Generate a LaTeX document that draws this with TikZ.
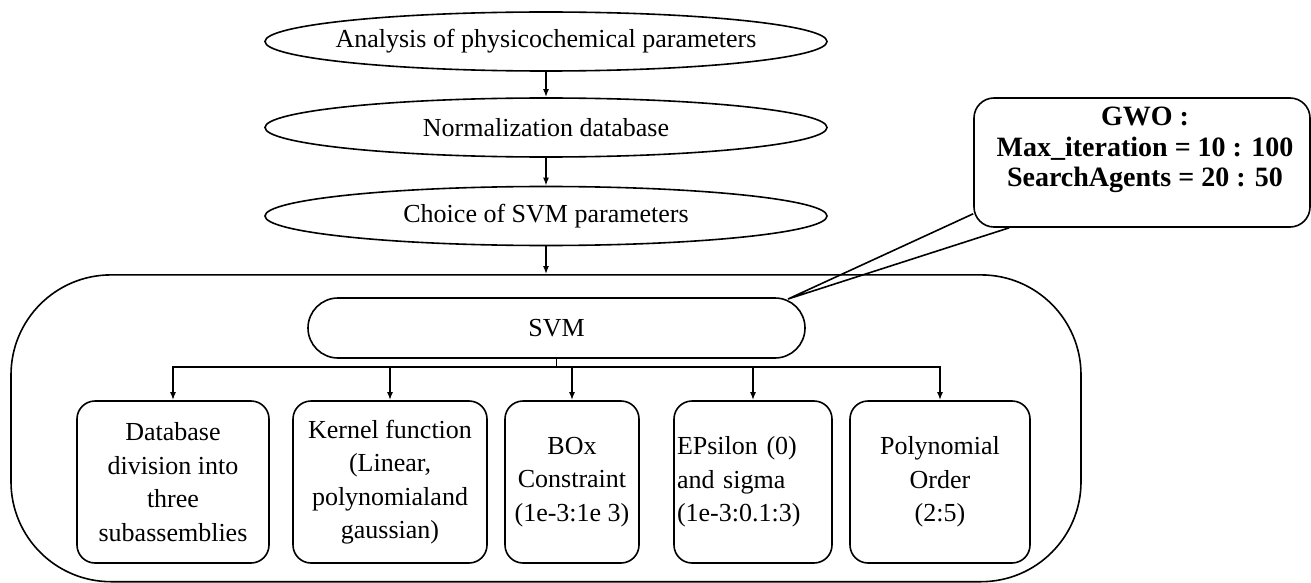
\documentclass[tikz,border=0pt]{standalone}
\usepackage{fontspec}
\setmainfont{Liberation Serif}
\usetikzlibrary{shapes.geometric,arrows.meta}
\begin{document}
\begin{tikzpicture}[x=0.5pt,y=-0.5pt,line width=0.8pt,
  txt/.style={font=\fontsize{13}{16.75}\selectfont},
  ell/.style={draw,ellipse,minimum width=281pt,minimum height=29.5pt,inner sep=0pt,txt},
  cbox/.style={draw,rounded corners=9pt,minimum height=81pt,inner sep=1.5pt,align=center,txt},
  arr/.style={-{Latex[length=4pt,width=3pt]}},
  gwotxt/.style={font=\fontsize{14}{15.2}\selectfont\bfseries,align=center,inner sep=0pt}]
\useasboundingbox (0,0) rectangle (1311,583);
% container
\node[draw,rounded corners=50pt,minimum width=535pt,minimum height=153.4pt,inner sep=0pt] (outer) at (546,428.3) {};
% top flow
\node[ell] (e1) at (546,41.5) {\makebox[0pt]{Analysis of physicochemical parameters}};
\node[ell] (e2) at (546,127.5) {\makebox[0pt]{Normalization database}};
\node[ell] (e3) at (546,216) {\makebox[0pt]{Choice of SVM parameters}};
\draw[arr] (e1) -- (e2);
\draw[arr] (e2) -- (e3);
\draw[arr] (e3) -- (outer.north);
% SVM
\node[draw,rounded corners=15pt,minimum width=248.5pt,minimum height=30pt,txt] (svm) at (556.5,328) {SVM};
% children
\node[cbox,minimum width=96pt] (b1) at (173,482) {Database\\division into\\three\\subassemblies};
\node[cbox,minimum width=97pt] (b2) at (390,482) {Kernel function\\(Linear,\\polynomialand\\gaussian)};
\node[cbox,minimum width=67pt] (b3) at (572,482) {BOx\\Constraint\\(1e-3:1e 3)};
\node[cbox,text width=76pt,align=left,minimum width=79pt] (b4) at (753,482) {EPsilon (0)\\and sigma\\(1e-3:0.1:3)};
\node[cbox,minimum width=90pt] (b5) at (940,482) {Polynomial\\Order\\(2:5)};
\coordinate (bar) at (556.5,367);
\draw[arr] (svm.south) -- (bar) -| (b1.north);
\draw[arr] (bar) -| (b2.north);
\draw[arr] (bar) -| (b3.north);
\draw[arr] (bar) -| (b4.north);
\draw[arr] (bar) -| (b5.north);
% GWO callout
\node[draw,rounded corners=10pt,minimum width=168pt,minimum height=64.5pt,inner sep=0pt] (gwo) at (1142,162.5) {};
\node[gwotxt] (gwotext) at (1145,150) {GWO :\\Max\_iteration = 10 : 100\\SearchAgents = 20 : 50};
\coordinate (tip) at (788,299);
\draw ([yshift=7pt]gwo.south west) -- (tip) -- ([xshift=18pt]gwo.south west);
\end{tikzpicture}
\end{document}
